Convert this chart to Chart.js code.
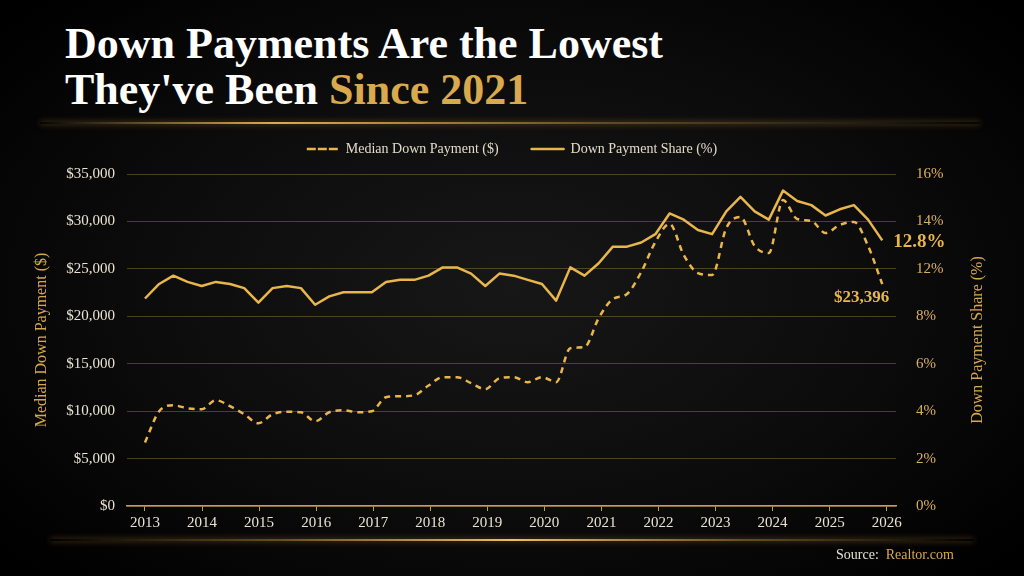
<!DOCTYPE html>
<html>
<head>
<meta charset="utf-8">
<script src="https://cdn.jsdelivr.net/npm/chart.js@4.4.1/dist/chart.umd.min.js"></script>
<style>
  html, body { margin: 0; padding: 0; }
  body {
    width: 1024px; height: 576px; overflow: hidden; position: relative;
    background: radial-gradient(ellipse 65% 70% at 50% 50%, #171717 0%, #0c0c0c 55%, #000 100%);
    font-family: 'Liberation Serif', 'DejaVu Serif', serif;
  }
  #title {
    position: absolute; left: 65px; top: 21px; margin: 0;
    color: #fff; font-weight: bold; font-size: 44px; line-height: 46px;
  }
  #title span { color: #d9a94e; }
  .glow { position: absolute; height: 2px; }
  #glowTop {
    left: 40px; width: 940px; top: 122px;
    background: linear-gradient(90deg, rgba(190,140,50,0) 0%, rgba(230,180,90,0.95) 25%, rgba(200,150,60,0.45) 60%, rgba(190,140,50,0) 100%);
    box-shadow: 0 0 6px rgba(230,170,70,0.5);
  }
  #glowBottom {
    left: 50px; width: 924px; top: 539px;
    background: linear-gradient(90deg, rgba(190,140,50,0) 0%, rgba(200,150,60,0.5) 25%, rgba(240,190,100,1) 50%, rgba(200,150,60,0.5) 75%, rgba(190,140,50,0) 100%);
    box-shadow: 0 0 6px rgba(230,170,70,0.5);
  }
  #source {
    position: absolute; left: 836px; top: 547px;
    font-size: 14px; line-height: 16px; color: #e8e0d2;
  }
  #source span { color: #d9a94e; }
  #wrap { position: absolute; left: 0; top: 100px; width: 1024px; height: 476px; }
</style>
</head>
<body>
<h1 id="title">Down Payments Are the Lowest<br>They've Been <span>Since 2021</span></h1>
<div class="glow" id="glowTop"></div>
<div id="wrap"><canvas id="chart"></canvas></div>
<div class="glow" id="glowBottom"></div>
<div id="source">Source:&nbsp; <span>Realtor.com</span></div>

<script>
// quarterly points, 2013 Q1 .. 2025 Q4
const medianDown = [6700, 9990, 10620, 10300, 10200, 11150, 10520, 9670, 8720, 9670,
    9940, 9880, 8930, 9880, 10100, 9880, 9990, 11470, 11570, 11680,
    12700, 13580, 13580, 12950, 12310, 13470, 13580, 13050, 13580, 13050,
    16640, 16750, 19810, 21820, 22350, 24670, 27840, 29740, 26460, 24560,
    24350, 29310, 30470, 27410, 26670, 32260, 30260, 30050, 28780, 29630,
    29950, 27410, 23396];

const shareValues = [10.0, 10.7, 11.1, 10.8, 10.6, 10.8, 10.7, 10.5, 9.8, 10.5,
    10.6, 10.5, 9.7, 10.1, 10.3, 10.3, 10.3, 10.8, 10.9, 10.9,
    11.1, 11.5, 11.5, 11.2, 10.6, 11.2, 11.1, 10.9, 10.7, 9.9,
    11.5, 11.1, 11.7, 12.5, 12.5, 12.7, 13.1, 14.1, 13.8, 13.3,
    13.1, 14.2, 14.9, 14.2, 13.8, 15.2, 14.7, 14.5, 14.0, 14.3,
    14.5, 13.8, 12.8];

const yearTicks = [2013, 2014, 2015, 2016, 2017, 2018, 2019, 2020, 2021, 2022, 2023, 2024, 2025, 2026];
const dollarTicks = [0, 5000, 10000, 15000, 20000, 25000, 30000, 35000];
// right-hand labels sit on the same 8 gridlines as the dollar axis (no 10% in the original)
const shareTickLabels = ['0%', '2%', '4%', '6%', '8%', '12%', '14%', '16%'];

// position of each quarter on the year axis
const quarterPos = medianDown.map((_, i) => 2013 + i * 0.2485);

const gold = '#e8b64a';
const cream = '#ebe3d3';
const serif = "'Liberation Serif', serif";

// a bit of room between the legend and the plot
const legendGap = {
    id: 'legendGap',
    beforeInit(chart) {
        const fit = chart.legend.fit;
        chart.legend.fit = function () {
            fit.call(this);
            this.height += 8;
        };
    }
};

// end values + right axis title (reads bottom to top)
const extras = {
    id: 'extras',
    afterDatasetsDraw(chart) {
        const ctx = chart.ctx;
        const down = chart.getDatasetMeta(0).data.at(-1);
        const share = chart.getDatasetMeta(1).data.at(-1);
        ctx.save();
        ctx.fillStyle = gold;
        ctx.textBaseline = 'middle';
        ctx.font = 'bold 19px ' + serif;
        ctx.textAlign = 'left';
        ctx.fillText(shareValues.at(-1).toFixed(1) + '%', share.x + 11, share.y + 2);
        ctx.font = 'bold 17px ' + serif;
        ctx.textAlign = 'right';
        ctx.fillText('$' + medianDown.at(-1).toLocaleString('en-US'), down.x + 7, down.y + 14);

        const area = chart.chartArea;
        ctx.translate(978, (area.top + area.bottom) / 2);
        ctx.rotate(-Math.PI / 2);
        ctx.textAlign = 'center';
        ctx.fillStyle = '#d6a84e';
        ctx.font = '16px ' + serif;
        ctx.fillText('Down Payment Share (%)', 0, 0);
        ctx.restore();
    }
};

const ctx = document.getElementById('chart').getContext('2d');
new Chart(ctx, {
    type: 'line',
    data: {
        datasets: [
            {
                label: 'Median Down Payment ($)',
                data: medianDown.map((v, i) => ({x: quarterPos[i], y: v})),
                yAxisID: 'y',
                borderColor: gold,
                backgroundColor: 'rgba(0,0,0,0)',
                borderWidth: 2.5,
                borderDash: [6, 5],
                cubicInterpolationMode: 'monotone',
                pointRadius: 0,
                fill: false
            },
            {
                label: 'Down Payment Share (%)',
                data: shareValues.map((v, i) => ({x: quarterPos[i], y: v})),
                yAxisID: 'y1',
                borderColor: gold,
                backgroundColor: 'rgba(0,0,0,0)',
                borderWidth: 2.5,
                tension: 0,
                borderJoinStyle: 'round',
                pointRadius: 0,
                fill: false
            }
        ]
    },
    options: {
        responsive: true,
        maintainAspectRatio: false,
        animation: false,
        layout: {padding: {top: 9, bottom: 30, left: 0, right: 0}},
        plugins: {
            legend: {
                position: 'top',
                labels: {
                    boxWidth: 32,
                    boxHeight: 0,
                    color: '#e4dac8',
                    padding: 33,
                    font: {family: serif, size: 14}
                }
            },
            tooltip: {enabled: false}
        },
        scales: {
            x: {
                type: 'linear',
                min: 2012.685,
                max: 2026.163,
                afterBuildTicks: s => { s.ticks = yearTicks.map(v => ({value: v})); },
                afterFit: s => { s.height = 40; },
                ticks: {
                    color: cream,
                    font: {family: serif, size: 15},
                    padding: 3,
                    autoSkip: false,
                    maxRotation: 0,
                    callback: v => String(v)
                },
                grid: {display: true, drawOnChartArea: false, color: '#c9a04a', tickLength: 5},
                border: {display: true, color: '#c9a04a', width: 1.5}
            },
            y: {
                position: 'left',
                min: 0,
                max: 35000,
                afterBuildTicks: s => { s.ticks = dollarTicks.map(v => ({value: v})); },
                afterFit: s => { s.width = 127; },
                ticks: {
                    color: cream,
                    font: {family: serif, size: 15},
                    padding: 12,
                    callback: v => '$' + v.toLocaleString('en-US')
                },
                grid: {color: 'rgba(170,135,60,0.42)', drawTicks: false, lineWidth: 1},
                border: {display: false},
                title: {
                    display: true,
                    text: 'Median Down Payment ($)',
                    color: '#d6a84e',
                    font: {family: serif, size: 16},
                    padding: {top: 32, bottom: 0}
                }
            },
            y1: {
                position: 'right',
                min: 0,
                max: 16,
                afterBuildTicks: s => {
                    s.ticks = shareTickLabels.map((_, k) => ({value: 16 * k / (shareTickLabels.length - 1)}));
                },
                afterFit: s => { s.width = 128; },
                ticks: {
                    color: '#dcb060',
                    font: {family: serif, size: 15},
                    padding: 12,
                    callback: (v, i) => shareTickLabels[i]
                },
                grid: {display: false},
                border: {display: false}
            }
        }
    },
    plugins: [legendGap, extras]
});
</script>
</body>
</html>
